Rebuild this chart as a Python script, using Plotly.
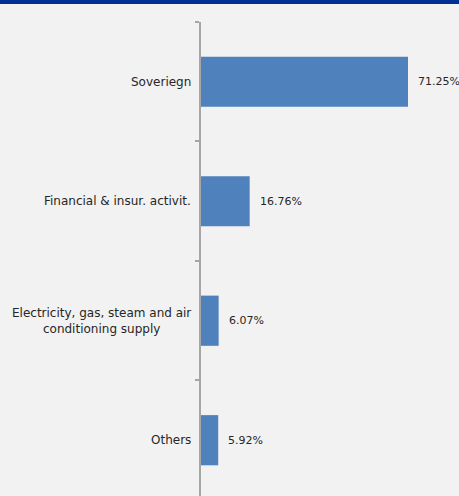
import plotly.graph_objects as go

categories = ["Soveriegn", "Financial & insur. activit.",
              "Electricity, gas, steam and air<br>conditioning supply", "Others"]
values = [71.25, 16.76, 6.07, 5.92]
value_labels = ["71.25%", "16.76%", "6.07%", "5.92%"]

FONT = "DejaVu Sans"
TXT = "#262626"
n = len(categories)

fig = go.Figure(go.Bar(
    x=values, y=list(range(n)), orientation="h",
    marker=dict(color="#4f81bd", line=dict(width=0)),
    width=0.42, hoverinfo="skip",
))

for i, (v, lab) in enumerate(zip(values, value_labels)):
    fig.add_annotation(x=v, y=i, xref="x", yref="y", text=lab, showarrow=False,
                       xanchor="left", xshift=8, font=dict(family=FONT, size=11, color=TXT))
for i, c in enumerate(categories):
    fig.add_annotation(x=0, y=i, xref="x", yref="y", text=c, showarrow=False,
                       xanchor="right", xshift=-8, align="center",
                       font=dict(family=FONT, size=12, color=TXT))

fig.update_layout(
    width=459, height=496,
    margin=dict(l=201, r=0, t=22, b=0),
    paper_bgcolor="#f2f2f2", plot_bgcolor="#f2f2f2",
    showlegend=False,
    xaxis=dict(range=[0, 88.8], visible=False, fixedrange=True),
    yaxis=dict(range=[3.467, -0.5], autorange=False,
               tickmode="array", tickvals=[i - 0.5 for i in range(n + 1)],
               ticktext=[""] * (n + 1),
               ticks="outside", ticklen=4, tickwidth=1.5,
               tickcolor="#a6a6a6", showline=True, linecolor="#a6a6a6", linewidth=2,
               showgrid=False, zeroline=False, fixedrange=True),
    shapes=[dict(type="rect", xref="paper", yref="paper", x0=-1, x1=1.1,
                 y0=(496 - 22 + 18) / 474, y1=1.2, fillcolor="#003092",
                 line=dict(width=0), layer="above")],
)

fig.write_html("out.html")
